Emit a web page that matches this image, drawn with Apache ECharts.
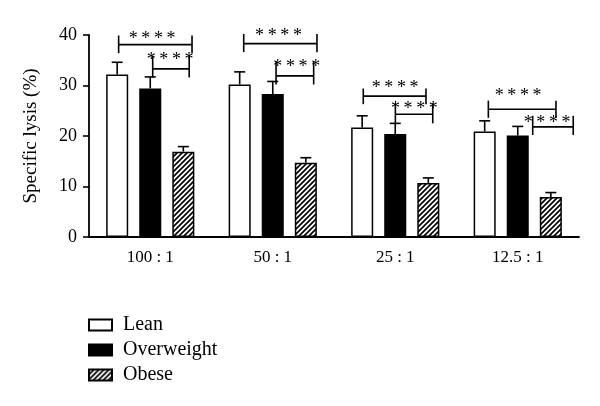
<!DOCTYPE html>
<html>
<head>
<meta charset="utf-8">
<script src="https://cdn.jsdelivr.net/npm/echarts@6/dist/echarts.min.js"></script>
<style>
html,body{margin:0;padding:0;background:#fff;}
#chart{width:600px;height:406px;}
</style>
</head>
<body>
<div id="chart"></div>
<script>
// ---- data ----
const categories = ['100 : 1', '50 : 1', '25 : 1', '12.5 : 1'];
const seriesNames = ['Lean', 'Overweight', 'Obese'];
const leanMean = [32.2, 30.2, 21.7, 20.9];
const leanErr = [2.4, 2.5, 2.3, 2.1];
const overweightMean = [29.4, 28.3, 20.4, 20.1];
const overweightErr = [2.3, 2.5, 2.1, 1.8];
const obeseMean = [16.9, 14.7, 10.7, 7.9];
const obeseErr = [1.0, 1.0, 1.0, 0.9];
const yTicks = [0, 10, 20, 30, 40];
// significance brackets: [xStart, xEnd, yLine, yTickTop, yTickBottom] (x in category units, 0..4)
const brackets = [
  [0.242, 0.841, 38.1, 39.9, 36.4],
  [0.520, 0.818, 33.3, 35.9, 31.6],
  [1.263, 1.861, 38.3, 40.2, 36.6],
  [1.527, 1.834, 31.9, 34.8, 30.2],
  [2.239, 2.751, 27.9, 29.4, 26.3],
  [2.501, 2.806, 24.3, 26.5, 22.5],
  [3.260, 3.812, 25.3, 27.0, 23.6],
  [3.622, 3.953, 21.8, 24.0, 20.2]
];
// star label positions: [x, y]
const starPos = [
  [0.515, 40.0], [0.662, 35.8], [1.547, 40.5], [1.696, 34.5],
  [2.499, 30.3], [2.656, 26.0], [3.503, 28.6], [3.740, 23.4]
];
const starText = '*\u2009*\u2009*\u2009*';

// ---- styles ----
const FONT = "'Liberation Serif', 'Times New Roman', serif";
function hatch() {
  const s = 5;
  const c = document.createElement('canvas');
  c.width = s; c.height = s;
  const g = c.getContext('2d');
  g.fillStyle = '#fff'; g.fillRect(0, 0, s, s);
  g.strokeStyle = '#000'; g.lineWidth = 1.7;
  g.beginPath();
  g.moveTo(-1, s + 1); g.lineTo(s + 1, -1);
  g.moveTo(-1, 1); g.lineTo(1, -1);
  g.moveTo(s - 1, s + 1); g.lineTo(s + 1, s - 1);
  g.stroke();
  return c;
}
const fills = ['#ffffff', '#000000', { image: hatch(), repeat: 'repeat' }];
const means = [leanMean, overweightMean, obeseMean];
const errs = [leanErr, overweightErr, obeseErr];
const BAR_FRAC = 0.18, GAP_FRAC = 0.5;

const chart = echarts.init(document.getElementById('chart'), null, { renderer: 'canvas' });

const barSeries = seriesNames.map((name, i) => ({
  name, type: 'bar', xAxisIndex: 0, yAxisIndex: 0,
  data: means[i],
  barWidth: (BAR_FRAC * 100) + '%', barGap: (GAP_FRAC * 100) + '%',
  itemStyle: { color: fills[i], borderColor: '#000', borderWidth: 1.5 },
  emphasis: { disabled: true }, z: 2
}));

const errSeries = seriesNames.map((name, i) => ({
  type: 'custom', xAxisIndex: 0, yAxisIndex: 0, z: 3, silent: true,
  data: means[i].map((m, k) => [k, m, errs[i][k]]),
  renderItem: (params, api) => {
    const band = api.size([1, 0])[0];
    const bw = band * BAR_FRAC;
    const off = (i - 1) * bw * (1 + GAP_FRAC);
    const p0 = api.coord([api.value(0), api.value(1)]);
    const p1 = api.coord([api.value(0), api.value(1) + api.value(2)]);
    const x = p0[0] + off;
    const capHalf = 5.5;
    const st = { stroke: '#000', lineWidth: 1.6 };
    return { type: 'group', children: [
      { type: 'line', shape: { x1: x, y1: p0[1], x2: x, y2: p1[1] }, style: st },
      { type: 'line', shape: { x1: x - capHalf, y1: p1[1], x2: x + capHalf, y2: p1[1] }, style: st }
    ]};
  }
}));

const bracketSeries = {
  type: 'custom', xAxisIndex: 1, yAxisIndex: 0, z: 4, silent: true, clip: false,
  data: brackets,
  renderItem: (params, api) => {
    const a = api.coord([api.value(0), api.value(2)]);
    const b = api.coord([api.value(1), api.value(2)]);
    const t = api.coord([0, api.value(3)])[1];
    const bt = api.coord([0, api.value(4)])[1];
    const st = { stroke: '#000', lineWidth: 1.6 };
    return { type: 'group', children: [
      { type: 'line', shape: { x1: a[0], y1: a[1], x2: b[0], y2: b[1] }, style: st },
      { type: 'line', shape: { x1: a[0], y1: t, x2: a[0], y2: bt }, style: st },
      { type: 'line', shape: { x1: b[0], y1: t, x2: b[0], y2: bt }, style: st }
    ]};
  }
};

const starSeries = {
  type: 'custom', xAxisIndex: 1, yAxisIndex: 0, z: 5, silent: true, clip: false,
  data: starPos,
  renderItem: (params, api) => {
    const p = api.coord([api.value(0), api.value(1)]);
    return { type: 'text', x: p[0], y: p[1] + 4, style: {
      text: starText, fill: '#000', font: '18px ' + FONT, align: 'center', verticalAlign: 'middle'
    }};
  }
};

chart.setOption({
  animation: false,
  backgroundColor: '#fff',
  textStyle: { fontFamily: FONT },
  grid: { left: 89, top: 35, width: 490, height: 202, containLabel: false },
  legend: {
    data: seriesNames, orient: 'vertical', left: 88, top: 315, padding: 0,
    icon: 'rect', itemWidth: 23, itemHeight: 11, itemGap: 5,
    textStyle: { fontFamily: FONT, fontSize: 20, lineHeight: 18, color: '#000', padding: [0, 0, 0, 6] },
    selectedMode: false
  },
  xAxis: [
    { type: 'category', data: categories, gridIndex: 0,
      axisLine: { lineStyle: { color: '#000', width: 1.8 } },
      axisTick: { alignWithLabel: true, length: 5, lineStyle: { color: '#000', width: 1.6 } },
      axisLabel: { color: '#000', fontFamily: FONT, fontSize: 17, margin: 12 },
      splitLine: { show: false } },
    { type: 'value', min: 0, max: 4, gridIndex: 0, show: false }
  ],
  yAxis: {
    type: 'value', min: yTicks[0], max: yTicks[yTicks.length - 1], interval: yTicks[1] - yTicks[0],
    name: 'Specific lysis (%)', nameLocation: 'middle', nameGap: 48, nameRotate: 90,
    nameTextStyle: { color: '#000', fontFamily: FONT, fontSize: 19 },
    axisLine: { show: true, lineStyle: { color: '#000', width: 1.8 } },
    axisTick: { show: true, length: 6, lineStyle: { color: '#000', width: 1.6 } },
    axisLabel: { color: '#000', fontFamily: FONT, fontSize: 18, margin: 12 },
    splitLine: { show: false }
  },
  series: [...barSeries, ...errSeries, bracketSeries, starSeries]
});
</script>
</body>
</html>
